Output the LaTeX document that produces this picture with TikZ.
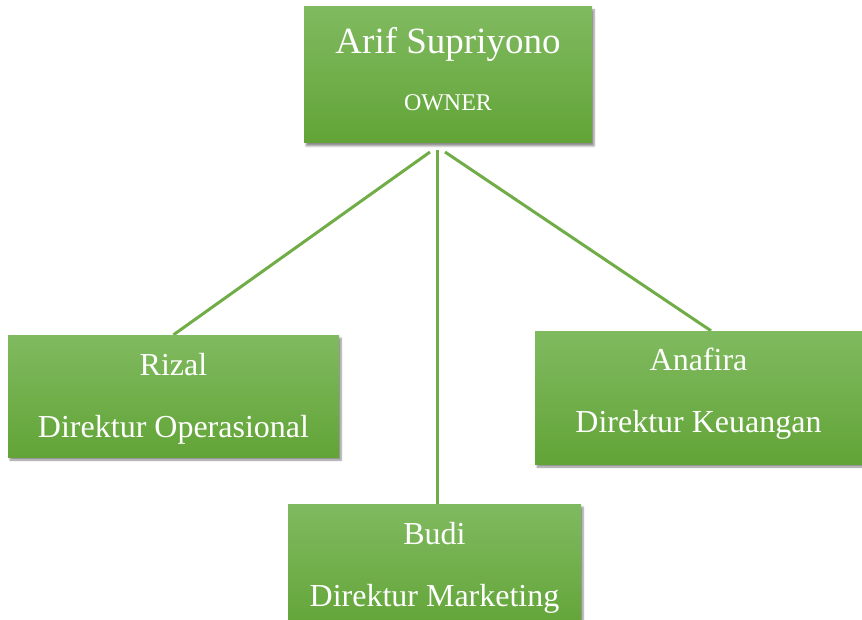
\documentclass[tikz,border=0pt]{standalone}
\usepackage{fontspec}
\setmainfont{Liberation Serif}
\usetikzlibrary{shadows.blur,backgrounds}
\definecolor{boxtop}{HTML}{80BA60}
\definecolor{boxbot}{HTML}{62A437}
\definecolor{linkgrn}{HTML}{70AD47}
\tikzset{
  org/.style={rectangle,top color=boxtop,bottom color=boxbot,draw=none,
              text=white,align=center,inner sep=0pt,
              blur shadow={shadow xshift=2pt,shadow yshift=-3pt,
                           shadow blur steps=6,shadow opacity=45}},
  staff/.style={org,font=\fontsize{32}{62}\selectfont},
  link/.style={draw=linkgrn,line width=3pt},
}
\begin{document}
\begin{tikzpicture}[x=1pt,y=-1pt]
  \useasboundingbox (0,0) rectangle (862,620);
  \node[org,minimum width=288pt,minimum height=136pt,
        font=\fontsize{24}{57}\selectfont] (owner) at (448,75)
       {{\fontsize{37}{57}\selectfont Arif Supriyono}\\OWNER\rule[-12pt]{0pt}{12pt}};
  \node[staff,minimum width=331pt,minimum height=122pt] (rizal) at (173.5,396)
       {\rule{0pt}{28pt}Rizal\\Direktur Operasional};
  \node[staff,minimum width=327pt,minimum height=133pt] (anafira) at (698.5,397.5)
       {Anafira\\Direktur Keuangan\rule[-14pt]{0pt}{14pt}};
  \node[staff,minimum width=293pt,minimum height=128pt] (budi) at (434.5,568)
       {Budi\\Direktur Marketing};
  % garis dari owner ke direktur
  \coordinate (hl) at (430,152);
  \coordinate (hm) at (437,150);
  \coordinate (hr) at (445,152);
  \begin{scope}[on background layer]
    \draw[link] (hl) -- (rizal.north);
    \draw[link] (hm) -- (hm |- budi.north);
    \draw[link] (hr) -- ([xshift=12.5pt]anafira.north);
  \end{scope}
\end{tikzpicture}
\end{document}
